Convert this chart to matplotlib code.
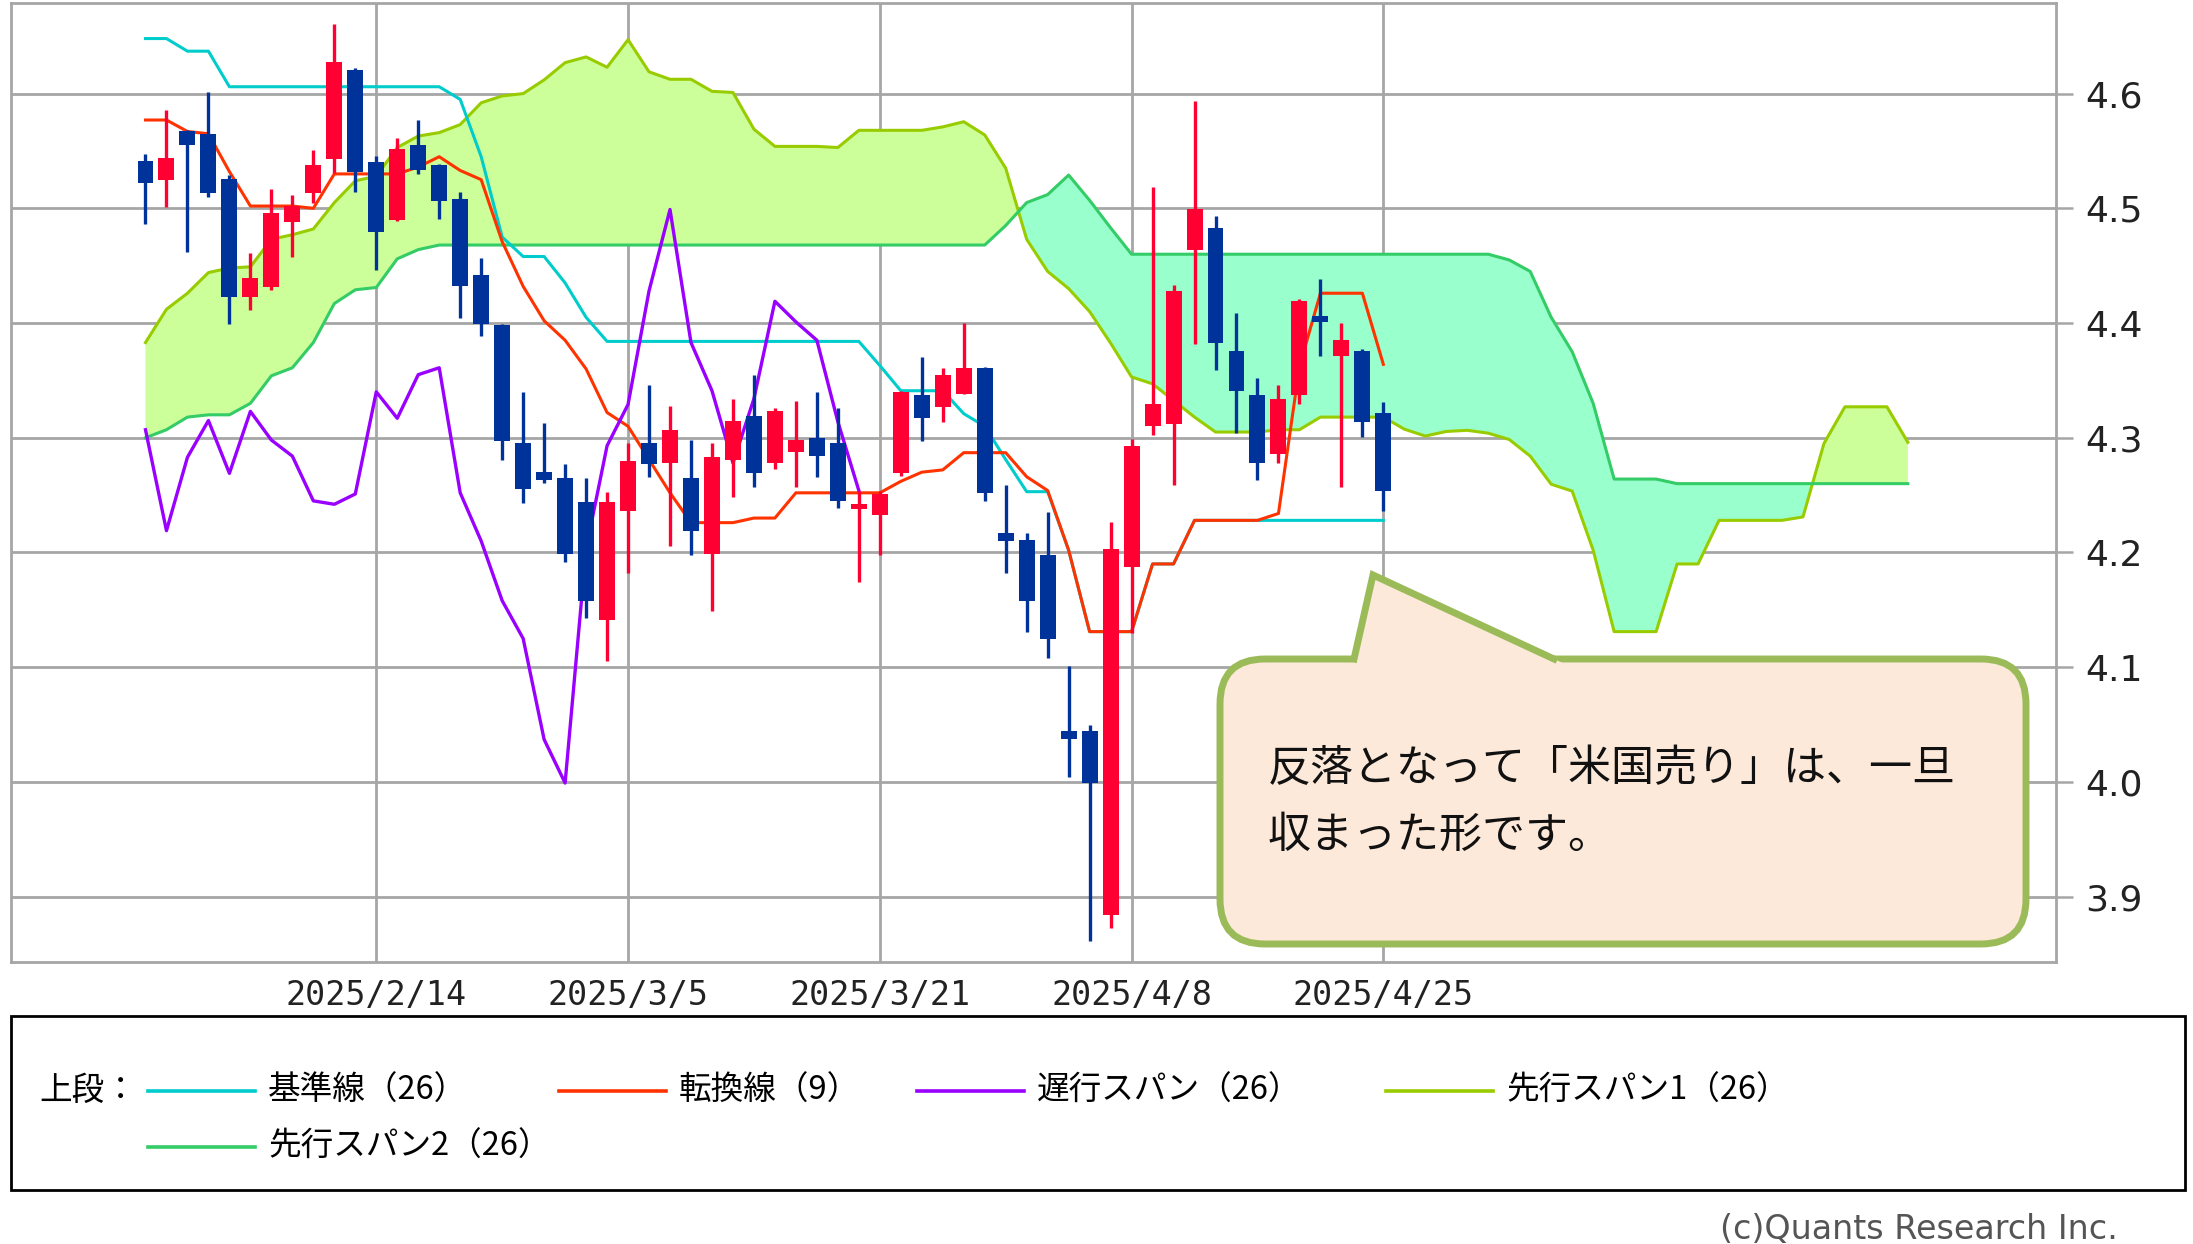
import numpy as np
import matplotlib.pyplot as plt
from matplotlib.patches import FancyBboxPatch, Rectangle, Polygon
from matplotlib.lines import Line2D

plt.rcParams['font.family'] = ['DejaVu Sans', 'Noto Sans CJK JP']
JP = ['Noto Sans CJK JP', 'DejaVu Sans']

# 日付ラベル（ローソク足のインデックス位置）
date_labels = ['2025/2/14', '2025/3/5', '2025/3/21', '2025/4/8', '2025/4/25']
date_pos = [11, 23, 35, 47, 59]

# ローソク足（米10年債利回り、60本）
opens = [4.541, 4.525, 4.567, 4.565, 4.526, 4.423, 4.431, 4.488, 4.513, 4.543,
         4.621, 4.540, 4.490, 4.555, 4.538, 4.508, 4.442, 4.398, 4.295, 4.270,
         4.265, 4.244, 4.141, 4.236, 4.295, 4.278, 4.265, 4.199, 4.281, 4.319,
         4.278, 4.288, 4.300, 4.295, 4.238, 4.233, 4.269, 4.337, 4.327, 4.338,
         4.361, 4.217, 4.211, 4.198, 4.044, 4.044, 3.884, 4.187, 4.310, 4.312,
         4.464, 4.483, 4.376, 4.337, 4.286, 4.337, 4.406, 4.371, 4.376, 4.322]
highs = [4.547, 4.586, 4.568, 4.601, 4.529, 4.461, 4.517, 4.512, 4.551, 4.661,
         4.622, 4.546, 4.561, 4.577, 4.539, 4.514, 4.457, 4.399, 4.340, 4.313,
         4.277, 4.265, 4.253, 4.295, 4.346, 4.328, 4.298, 4.295, 4.334, 4.355,
         4.326, 4.332, 4.340, 4.326, 4.254, 4.254, 4.341, 4.370, 4.361, 4.400,
         4.362, 4.259, 4.217, 4.235, 4.101, 4.050, 4.227, 4.299, 4.519, 4.433,
         4.594, 4.493, 4.409, 4.352, 4.346, 4.421, 4.438, 4.400, 4.377, 4.331]
lows = [4.486, 4.501, 4.462, 4.510, 4.399, 4.411, 4.429, 4.458, 4.505, 4.531,
        4.514, 4.446, 4.489, 4.530, 4.491, 4.404, 4.389, 4.281, 4.243, 4.261,
        4.192, 4.143, 4.105, 4.182, 4.266, 4.206, 4.198, 4.149, 4.248, 4.257,
        4.273, 4.257, 4.266, 4.239, 4.174, 4.198, 4.267, 4.297, 4.314, 4.338,
        4.245, 4.182, 4.131, 4.108, 4.004, 3.861, 3.873, 4.130, 4.302, 4.259,
        4.382, 4.359, 4.304, 4.263, 4.278, 4.329, 4.371, 4.257, 4.301, 4.236]
closes = [4.522, 4.544, 4.555, 4.513, 4.423, 4.439, 4.496, 4.502, 4.538, 4.628,
          4.532, 4.479, 4.552, 4.533, 4.506, 4.432, 4.399, 4.297, 4.255, 4.263,
          4.199, 4.158, 4.244, 4.280, 4.277, 4.307, 4.219, 4.283, 4.315, 4.269,
          4.323, 4.298, 4.284, 4.245, 4.242, 4.251, 4.340, 4.317, 4.355, 4.361,
          4.252, 4.210, 4.158, 4.125, 4.037, 3.999, 4.203, 4.293, 4.329, 4.428,
          4.499, 4.383, 4.341, 4.278, 4.334, 4.419, 4.401, 4.385, 4.314, 4.254]

# 一目均衡表
tenkan = [4.577, 4.577, 4.567, 4.565, 4.532, 4.502, 4.502, 4.502, 4.500, 4.530,
          4.530, 4.530, 4.530, 4.536, 4.545, 4.533, 4.525, 4.471, 4.432, 4.402,
          4.385, 4.360, 4.322, 4.310, 4.281, 4.252, 4.226, 4.226, 4.226, 4.230,
          4.230, 4.252, 4.252, 4.252, 4.252, 4.252, 4.262, 4.270, 4.272, 4.287,
          4.287, 4.287, 4.266, 4.254, 4.202, 4.131, 4.131, 4.131, 4.190, 4.190,
          4.228, 4.228, 4.228, 4.228, 4.234, 4.362, 4.426, 4.426, 4.426, 4.364]
kijun = [4.648, 4.648, 4.637, 4.637, 4.606, 4.606, 4.606, 4.606, 4.606, 4.606,
         4.606, 4.606, 4.606, 4.606, 4.606, 4.595, 4.545, 4.475, 4.458, 4.458,
         4.435, 4.405, 4.384, 4.384, 4.384, 4.384, 4.384, 4.384, 4.384, 4.384,
         4.384, 4.384, 4.384, 4.384, 4.384, 4.363, 4.341, 4.341, 4.341, 4.321,
         4.310, 4.281, 4.253, 4.253, 4.202, 4.131, 4.131, 4.131, 4.190, 4.190,
         4.228, 4.228, 4.228, 4.228, 4.228, 4.228, 4.228, 4.228, 4.228, 4.228]
senkou1 = [4.383, 4.412, 4.426, 4.444, 4.448, 4.449, 4.473, 4.477, 4.482, 4.505,
           4.524, 4.528, 4.553, 4.563, 4.566, 4.573, 4.592, 4.598, 4.600, 4.612,
           4.627, 4.632, 4.623, 4.647, 4.619, 4.6125, 4.6125, 4.602, 4.601, 4.569,
           4.554, 4.554, 4.554, 4.553, 4.568, 4.568, 4.568, 4.568, 4.571, 4.5755,
           4.564, 4.535, 4.473, 4.445, 4.430, 4.410, 4.3825, 4.353, 4.347, 4.3325,
           4.318, 4.305, 4.305, 4.305, 4.307, 4.307, 4.318, 4.318, 4.318, 4.318,
           4.3075, 4.3015, 4.3055, 4.3065, 4.304, 4.2985, 4.284, 4.2595, 4.2535, 4.202,
           4.131, 4.131, 4.131, 4.190, 4.190, 4.228, 4.228, 4.228, 4.228, 4.231,
           4.295, 4.327, 4.327, 4.327, 4.296]
senkou2 = [4.300, 4.307, 4.318, 4.320, 4.320, 4.330, 4.354, 4.361, 4.383, 4.417,
           4.429, 4.431, 4.456, 4.464, 4.468, 4.468, 4.468, 4.468, 4.468, 4.468,
           4.468, 4.468, 4.468, 4.468, 4.468, 4.468, 4.468, 4.468, 4.468, 4.468,
           4.468, 4.468, 4.468, 4.468, 4.468, 4.468, 4.468, 4.468, 4.468, 4.468,
           4.468, 4.485, 4.505, 4.512, 4.529, 4.507, 4.483, 4.460, 4.460, 4.460,
           4.460, 4.460, 4.460, 4.460, 4.460, 4.460, 4.460, 4.460, 4.460, 4.460,
           4.460, 4.460, 4.460, 4.460, 4.460, 4.455, 4.445, 4.405, 4.375, 4.330,
           4.264, 4.264, 4.264, 4.260, 4.260, 4.260, 4.260, 4.260, 4.260, 4.260,
           4.260, 4.260, 4.260, 4.260, 4.260]

o = np.array(opens)
h = np.array(highs)
l = np.array(lows)
c = np.array(closes)
x = np.arange(len(c))
xs = np.arange(len(senkou1))
s1 = np.array(senkou1)
s2 = np.array(senkou2)

W, H = 2193, 1244
fig = plt.figure(figsize=(W / 100, H / 100), dpi=100)
ax = fig.add_axes([11 / W, 1 - 962 / H, (2056 - 11) / W, (962 - 3) / H])

# 雲
ax.fill_between(xs, s1, s2, where=s1 >= s2, interpolate=True, color='#CCFF99', lw=0, zorder=1)
ax.fill_between(xs, s1, s2, where=s1 < s2, interpolate=True, color='#99FFCC', lw=0, zorder=1)
ax.plot(xs, s1, color='#99CC00', lw=2.2, zorder=2)
ax.plot(xs, s2, color='#33CC66', lw=2.2, zorder=2)

# 基準線・転換線・遅行スパン
ax.plot(x, kijun, color='#00CCCC', lw=2.2, zorder=3)
ax.plot(x, tenkan, color='#FF3300', lw=2.2, zorder=4)
ax.plot(x[:len(c) - 25], c[25:], color='#9900FF', lw=2.4, zorder=4)

# ローソク足
cols = np.where(c >= o, '#FF0033', '#003399')
ax.vlines(x, l, h, colors=cols, lw=2.4, zorder=5)
body_h = np.maximum(np.abs(c - o), 0.004)
ax.bar(x, body_h, bottom=np.minimum(o, c), width=0.76, color=cols, lw=0, zorder=6)

ax.set_xlim(-6.41, 91.06)
ax.set_ylim(3.843, 4.679)
ax.set_yticks([3.9, 4.0, 4.1, 4.2, 4.3, 4.4, 4.5, 4.6])
ax.set_yticklabels(['3.9', '4.0', '4.1', '4.2', '4.3', '4.4', '4.5', '4.6'])
ax.yaxis.tick_right()
ax.tick_params(axis='y', length=12, width=1.8, color='#A6A6A6', labelsize=26,
               pad=9, labelcolor='#222222')
ax.set_xticks(date_pos)
ax.set_xticklabels(date_labels, family='DejaVu Sans Mono')
ax.tick_params(axis='x', length=0, labelsize=24, pad=12, labelcolor='#222222')
ax.grid(True, color='#A6A6A6', lw=2.0, zorder=0)
ax.set_axisbelow(True)
for sp in ax.spines.values():
    sp.set_color('#A6A6A6')
    sp.set_linewidth(2.0)

# 吹き出し
tr = fig.dpi_scale_trans
box = FancyBboxPatch((12.20, 3.00), 8.06, 2.85, boxstyle='round,pad=0,rounding_size=0.45',
                     transform=tr, facecolor='#FCE9DA', edgecolor='#9BBB59', lw=5)
fig.add_artist(box)
tail_fill = Polygon([(13.525, 5.79), (13.73, 6.69), (15.67, 5.79)], closed=True,
                    transform=tr, facecolor='#FCE9DA', edgecolor='none')
fig.add_artist(tail_fill)
fig.add_artist(Line2D([13.54, 13.73, 15.54], [5.85, 6.69, 5.85], transform=tr,
                      color='#9BBB59', lw=5, solid_joinstyle='miter'))
fig.text(12.68, 4.75, '反落となって「米国売り」は、一旦', transform=tr, fontsize=31,
         family=JP, va='center', ha='left', color='#111111')
fig.text(12.68, 4.08, '収まった形です。', transform=tr, fontsize=31,
         family=JP, va='center', ha='left', color='#111111')

# 凡例
fig.add_artist(Rectangle((0.11, 0.54), 21.74, 1.74, transform=tr, fill=False,
                         edgecolor='black', lw=2))
fig.text(0.39, 1.53, '上段：', transform=tr, fontsize=23.5, family=JP, va='center')
items = [('基準線（26）', '#00CCCC', 1.48, 1.53),
         ('転換線（9）', '#FF3300', 5.59, 1.53),
         ('遅行スパン（26）', '#9900FF', 9.17, 1.53),
         ('先行スパン1（26）', '#99CC00', 13.86, 1.53),
         ('先行スパン2（26）', '#33CC66', 1.48, 0.97)]
for label, col, lx, ly in items:
    fig.add_artist(Line2D([lx, lx + 1.07], [ly, ly], transform=tr, color=col, lw=2.6))
    fig.text(lx + 1.20, ly, label, transform=tr, fontsize=23.5, family=JP, va='center')

fig.text(17.20, 0.31, '(c)Quants Research Inc.', transform=tr, fontsize=24,
         color='#555555', va='top', ha='left')

fig.savefig('out.png', dpi=100)
